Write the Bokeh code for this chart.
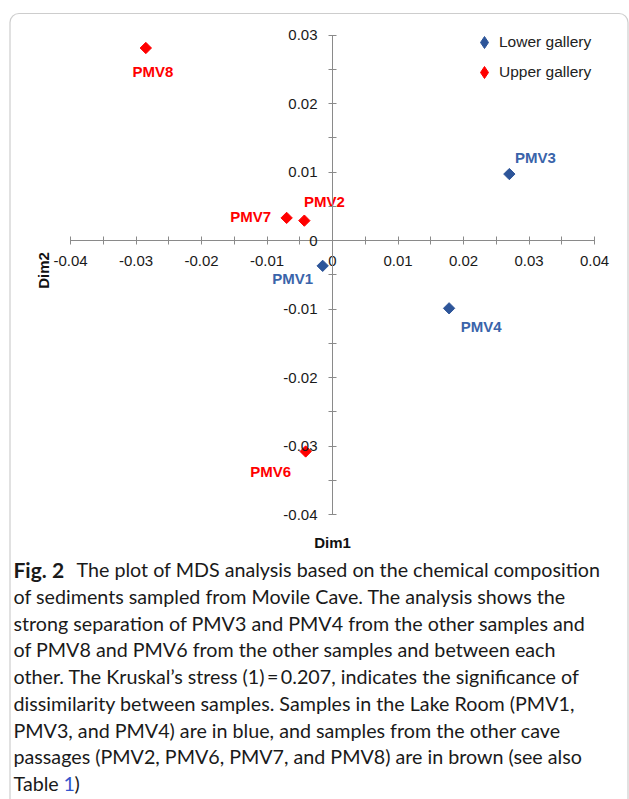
import math
from bokeh.plotting import figure
from bokeh.models import (ColumnDataSource, FixedTicker, Label, Legend, LegendItem,
                          BoxAnnotation, Range1d)
from bokeh.core.properties import value
from bokeh.embed import file_html
from bokeh.resources import INLINE

# ---------------- data ----------------
SAMPLES = ["PMV1", "PMV2", "PMV3", "PMV4", "PMV6", "PMV7", "PMV8"]
DIM1 = [-0.0015, -0.0043, 0.0270, 0.0178, -0.0041, -0.0070, -0.0285]
DIM2 = [-0.0037, 0.0029, 0.0097, -0.0099, -0.0308, 0.0033, 0.0281]
GALLERY = ["Lower gallery", "Upper gallery", "Lower gallery", "Lower gallery",
           "Upper gallery", "Upper gallery", "Upper gallery"]
GROUPS = ["Lower gallery", "Upper gallery"]

X_TICKS = [-0.04, -0.03, -0.02, -0.01, 0.0, 0.01, 0.02, 0.03, 0.04]
X_TICK_LABELS = ["-0.04", "-0.03", "-0.02", "-0.01", "0", "0.01", "0.02", "0.03", "0.04"]
X_MINOR = [-0.035, -0.025, -0.015, -0.005, 0.005, 0.015, 0.025, 0.035]
Y_TICKS = [-0.04, -0.03, -0.02, -0.01, 0.0, 0.01, 0.02, 0.03]
Y_TICK_LABELS = ["-0.04", "-0.03", "-0.02", "-0.01", "0", "0.01", "0.02", "0.03"]
Y_MINOR = [-0.035, -0.025, -0.015, -0.005, 0.005, 0.015, 0.025]
X_TITLE = "Dim1"
Y_TITLE = "Dim2"

CAPTION_BOLD = "Fig. 2"
CAPTION_LINES = [
    "The plot of MDS analysis based on the chemical composition",
    "of sediments sampled from Movile Cave. The analysis shows the",
    "strong separation of PMV3 and PMV4 from the other samples and",
    "of PMV8 and PMV6 from the other samples and between each",
    "other. The Kruskal\u2019s stress (1)\u2009=\u20090.207, indicates the significance of",
    "dissimilarity between samples. Samples in the Lake Room (PMV1,",
    "PMV3, and PMV4) are in blue, and samples from the other cave",
    "passages (PMV2, PMV6, PMV7, and PMV8) are in brown (see also",
]
CAPTION_LAST = ["Table", "1", ")"]

# ---------------- styles ----------------
COLORS = {"Lower gallery": "#2D5599", "Upper gallery": "#FF0000"}
LABEL_COLORS = {"Lower gallery": "#3A64AA", "Upper gallery": "#FF0000"}
# label offsets in screen pixels (down is positive)
LABEL_DX = {"PMV1": -30, "PMV2": 20, "PMV3": 26, "PMV4": 32, "PMV6": -35, "PMV7": -36, "PMV8": 7}
LABEL_DY = {"PMV1": 13, "PMV2": -19, "PMV3": -17, "PMV4": 18, "PMV6": 20, "PMV7": -1, "PMV8": 23}

W, H = 629, 799
PX_X = 6550.0
PX_Y = 6850.0
X0_PX = 70.0      # screen x of -0.04
Y0_PX = 34.5      # screen y of 0.03
x_start = -0.04 - X0_PX / PX_X
x_end = x_start + W / PX_X
y_end = 0.03 + Y0_PX / PX_Y
y_start = y_end - H / PX_Y

p = figure(width=W, height=H, x_range=Range1d(x_start, x_end), y_range=Range1d(y_start, y_end),
           output_backend="svg", toolbar_location=None, min_border=0, title=None)
p.outline_line_color = None
p.grid.visible = False
p.background_fill_color = "white"
p.border_fill_color = "white"

AX_COLOR = "#8a8a8a"
for ax, ticks, minor, labels, bnds in [
        (p.xaxis[0], X_TICKS, X_MINOR, X_TICK_LABELS, (-0.04, 0.04)),
        (p.yaxis[0], Y_TICKS, Y_MINOR, Y_TICK_LABELS, (-0.04, 0.03))]:
    ax.fixed_location = 0
    ax.ticker = FixedTicker(ticks=ticks, minor_ticks=minor)
    ax.major_label_overrides = {t: l for t, l in zip(ticks, labels)}
    ax.bounds = bnds
    ax.axis_line_color = AX_COLOR
    ax.major_tick_line_color = AX_COLOR
    ax.minor_tick_line_color = AX_COLOR
    ax.major_tick_in = 4
    ax.major_tick_out = 4
    ax.minor_tick_in = 4
    ax.minor_tick_out = 4
    ax.major_label_text_font = "Liberation Sans"
    ax.major_label_text_font_size = "15px"
    ax.major_label_text_color = "#1a1a1a"
p.xaxis[0].major_label_standoff = 11
p.yaxis[0].major_label_standoff = 11

src = ColumnDataSource(dict(
    x=DIM1, y=DIM2, name=SAMPLES, group=GALLERY,
    color=[COLORS[g] for g in GALLERY],
    lcolor=[LABEL_COLORS[g] for g in GALLERY],
    dx=[LABEL_DX[s] for s in SAMPLES],
    dy=[LABEL_DY[s] for s in SAMPLES],
))

p.scatter("x", "y", source=src, marker="square", size=8, angle=math.pi / 4,
          fill_color="color", line_color="color")
p.text("x", "y", text="name", source=src, x_offset="dx", y_offset="dy",
       text_color="lcolor", text_font=value("Liberation Sans"), text_font_style="bold",
       text_font_size="15px", text_align="center", text_baseline="middle")

# legend (diamond glyphs, hidden renderers of the same data)
items = []
for g in GROUPS:
    idx = [i for i, gg in enumerate(GALLERY) if gg == g]
    gs = ColumnDataSource(dict(x=[DIM1[i] for i in idx], y=[DIM2[i] for i in idx]))
    r = p.scatter("x", "y", source=gs, marker="diamond", size=12,
                  fill_color=COLORS[g], line_color=COLORS[g])
    r.visible = False
    items.append(LegendItem(label=g, renderers=[r]))
legend = Legend(items=items, location=(469, H - 27 - 60), orientation="vertical",
                glyph_width=30, glyph_height=30, label_height=30, spacing=0,
                padding=0, margin=0, label_standoff=0,
                border_line_color=None, background_fill_alpha=0,
                label_text_font="Liberation Sans", label_text_font_size="15.5px",
                label_text_color="#222222")
p.add_layout(legend, "center")

# axis titles
p.add_layout(Label(x=332, y=H - 542, x_units="screen", y_units="screen", text=X_TITLE,
                   text_font="Liberation Sans", text_font_style="bold", text_font_size="15px",
                   text_color="#111111", text_align="center", text_baseline="middle"))
p.add_layout(Label(x=42.5, y=H - 270, x_units="screen", y_units="screen", text=Y_TITLE,
                   angle=math.pi / 2,
                   text_font="Liberation Sans", text_font_style="bold", text_font_size="15px",
                   text_color="#111111", text_align="center", text_baseline="middle"))

# frame of the figure panel
p.add_layout(BoxAnnotation(left=9.5, right=627.5, top=H - 13, bottom=-20,
                           left_units="screen", right_units="screen",
                           top_units="screen", bottom_units="screen",
                           fill_alpha=0, line_color="#5a5a5a", line_width=1.2,
                           border_radius=9))

# caption
CAP_FONT = "Lato"
CAP_SIZE = "19.7px"
CAP_X = 13
CAP_Y0 = 569
CAP_DY = 26.75
CAP_COLOR = "#1a1a1a"

def cap(x, y_top, text, style="normal", color=CAP_COLOR, size=CAP_SIZE):
    p.add_layout(Label(x=x, y=H - y_top, x_units="screen", y_units="screen", text=text,
                       text_font=CAP_FONT, text_font_style=style, text_font_size=size,
                       text_color=color, text_align="left", text_baseline="middle"))

cap(CAP_X, CAP_Y0, CAPTION_BOLD, "bold", size="21px")
cap(76, CAP_Y0, CAPTION_LINES[0])
for i, line in enumerate(CAPTION_LINES[1:], start=1):
    cap(CAP_X, CAP_Y0 + CAP_DY * i, line)
yl = CAP_Y0 + CAP_DY * len(CAPTION_LINES)
cap(CAP_X, yl, CAPTION_LAST[0])
cap(CAP_X + 50, yl, CAPTION_LAST[1], color="#3355cc")
cap(CAP_X + 61, yl, CAPTION_LAST[2])

open("out.html", "w").write(file_html(p, INLINE))
